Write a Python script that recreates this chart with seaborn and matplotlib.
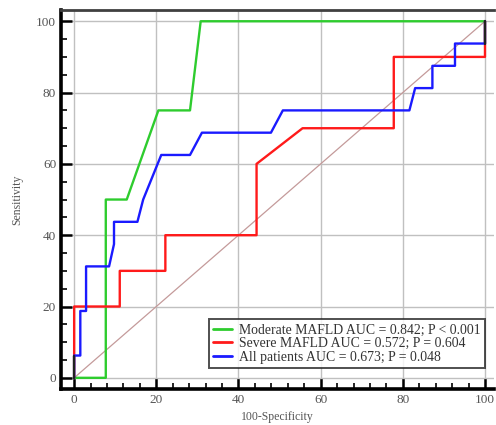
import pandas as pd
import numpy as np
import matplotlib
matplotlib.use('Agg')
import matplotlib.pyplot as plt
from matplotlib.lines import Line2D
from matplotlib.ticker import MultipleLocator
import seaborn as sns

# ROC points (100-Specificity, Sensitivity)
mod_x = [0, 7.7, 7.7, 12.8, 20.5, 28.2, 30.8, 100]
mod_y = [0, 0, 50, 50, 75, 75, 100, 100]

sev_x = [0, 0, 11.1, 11.1, 22.2, 22.2, 44.4, 44.4, 55.6, 77.8, 77.8, 100, 100]
sev_y = [0, 20, 20, 30, 30, 40, 40, 60, 70, 70, 90, 90, 100]

all_x = [0, 0, 1.5, 1.5, 2.9, 2.9, 8.5, 9.7, 9.7, 15.4, 16.8, 21.2, 28.2, 31.1,
         47.9, 50.8, 81.6, 83.0, 87.2, 87.2, 92.7, 92.7, 100, 100]
all_y = [0, 6.25, 6.25, 18.75, 18.75, 31.25, 31.25, 37.5, 43.75, 43.75, 50, 62.5, 62.5, 68.75,
         68.75, 75, 75, 81.25, 81.25, 87.5, 87.5, 93.75, 93.75, 100]

labels = ['Moderate MAFLD AUC = 0.842; P < 0.001',
          'Severe MAFLD AUC = 0.572; P = 0.604',
          'All patients AUC = 0.673; P = 0.048']
colors = ['#2ecc2e', '#ff1a1a', '#1a1aff']

sns.set_style('white')
plt.rcParams['font.family'] = ['Liberation Serif', 'DejaVu Serif']

fig = plt.figure(figsize=(4.96, 4.25), dpi=100)
ax = fig.add_axes([0.123, 0.085, 0.873, 0.891])

ax.grid(True, which='major', color='#c0c0c0', lw=1.0)
ax.set_axisbelow(True)

# reference diagonal
ax.plot([0, 100], [0, 100], color='#c49a9a', lw=0.9)

series = [(mod_x, mod_y), (sev_x, sev_y), (all_x, all_y)]
for (xs, ys), c in zip(series, colors):
    d = pd.DataFrame({'x': xs, 'y': ys})
    sns.lineplot(data=d, x='x', y='y', sort=False, estimator=None,
                 color=c, lw=1.7, ax=ax)

# overlapping segments appear dark
ax.plot([0, 0], [0, 6.25], color='#202020', lw=1.7)
ax.plot([100, 100], [93.75, 100], color='#202020', lw=1.7)

ax.set_xlim(-3.2, 102.2)
ax.set_ylim(-3.1, 103.1)
ax.xaxis.set_major_locator(MultipleLocator(20))
ax.xaxis.set_minor_locator(MultipleLocator(4))
ax.yaxis.set_major_locator(MultipleLocator(20))
ax.yaxis.set_minor_locator(MultipleLocator(5))
ax.tick_params(which='major', direction='in', length=8, width=1.8, color='black',
               labelsize=9.5, labelcolor='#555555', bottom=True, left=True)
ax.tick_params(which='minor', direction='in', length=4, width=1.2, color='black',
               bottom=True, left=True)
ax.tick_params(axis='x', pad=4)

for s in ['left', 'bottom']:
    ax.spines[s].set_linewidth(2.6)
    ax.spines[s].set_color('black')
ax.spines['top'].set_linewidth(2.0)
ax.spines['top'].set_color('#404040')
ax.spines['right'].set_visible(False)

ax.set_xlabel('100-Specificity', fontsize=8.5, color='#555555', labelpad=3)
ax.set_ylabel('Sensitivity', fontsize=8.5, color='#555555', labelpad=9)

handles = [Line2D([], [], color=c, lw=2) for c in colors]
leg = ax.legend(handles, labels, loc='lower right', bbox_to_anchor=(0.979, 0.055),
                fontsize=9.9, frameon=True, fancybox=False, handlelength=1.4,
                handletextpad=0.5, labelspacing=0.05, borderpad=0.3,
                borderaxespad=0)
leg.get_frame().set_edgecolor('#222222')
leg.get_frame().set_linewidth(1.4)
for t in leg.get_texts():
    t.set_color('#333333')

fig.savefig('out.png', dpi=100)
